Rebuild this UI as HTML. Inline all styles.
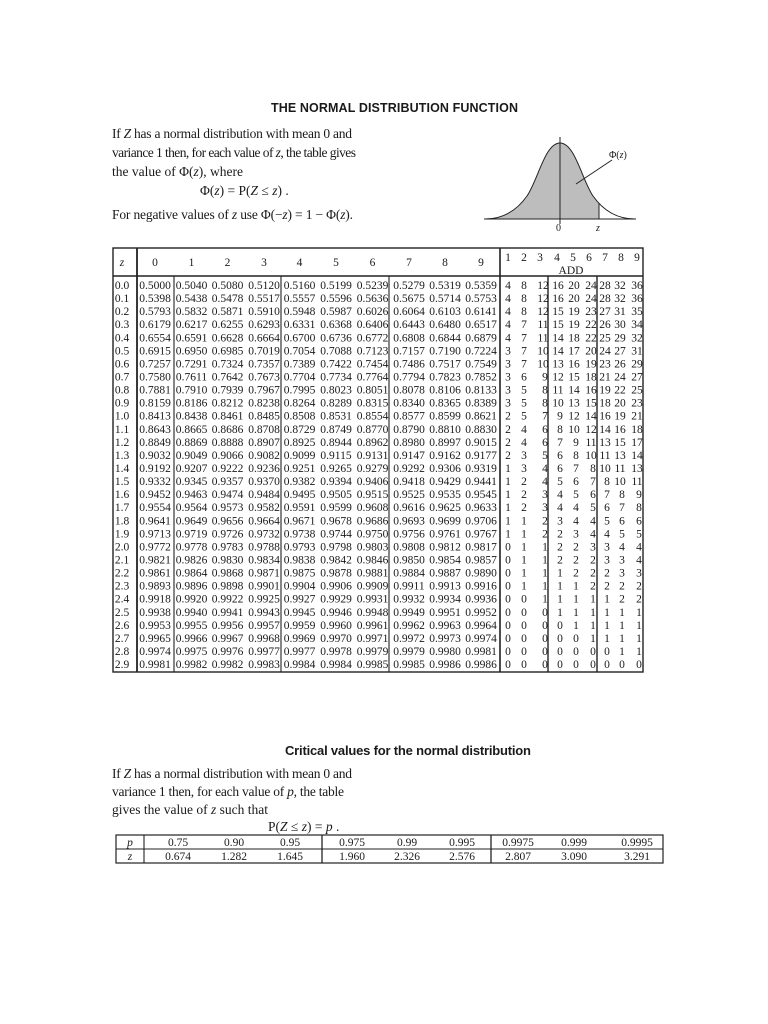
<!DOCTYPE html>
<html><head><meta charset="utf-8"><style>
html,body{margin:0;padding:0;background:#fff;}
svg{display:block;}
.s{font-family:"Liberation Serif",serif;fill:#1a1a1a;}
.b{font-family:"Liberation Sans",sans-serif;font-weight:bold;fill:#1a1a1a;}
.t{font-family:"Liberation Serif",serif;font-size:11.5px;fill:#1a1a1a;text-anchor:middle;}
</style></head><body>
<svg width="768" height="1024" viewBox="0 0 768 1024" xmlns="http://www.w3.org/2000/svg">
<text class="b" x="271" y="112" font-size="12.5" textLength="247">THE NORMAL DISTRIBUTION FUNCTION</text>
<text class="s" x="112" y="138" font-size="13.5" textLength="240">If <tspan font-style="italic">Z</tspan> has a normal distribution with mean 0 and</text>
<text class="s" x="112" y="157" font-size="13.5" textLength="244">variance 1 then, for each value of <tspan font-style="italic">z</tspan>, the table gives</text>
<text class="s" x="112" y="176" font-size="13.5">the value of Φ(<tspan font-style="italic">z</tspan>), where</text>
<text class="s" x="200" y="195" font-size="13.5">Φ(<tspan font-style="italic">z</tspan>) = P(<tspan font-style="italic">Z</tspan> ≤ <tspan font-style="italic">z</tspan>) .</text>
<text class="s" x="112" y="219" font-size="13.5" textLength="241">For negative values of <tspan font-style="italic">z</tspan> use  Φ(−<tspan font-style="italic">z</tspan>) = 1 − Φ(<tspan font-style="italic">z</tspan>).</text>

<path d="M485,219 C500,219 515,213 527,196 C538,180 545,143 560,143 C575,143 582,180 593,196 L599,204 L599,219 Z" fill="#bdbdbd"/>
<path d="M485,219 C500,219 515,213 527,196 C538,180 545,143 560,143 C575,143 582,180 593,196 C605,213 620,219 635,219" fill="none" stroke="#222" stroke-width="1"/>
<line x1="484" y1="219" x2="636" y2="219" stroke="#222" stroke-width="1"/>
<line x1="560" y1="137" x2="560" y2="224" stroke="#222" stroke-width="1"/>
<line x1="599" y1="203" x2="599" y2="219" stroke="#222" stroke-width="1"/>
<line x1="612" y1="160" x2="576" y2="184" stroke="#222" stroke-width="1"/>
<text class="s" x="609" y="158" font-size="10">Φ(<tspan font-style="italic">z</tspan>)</text>
<text class="s" x="556" y="231" font-size="10">0</text>
<text class="s" x="596" y="231" font-size="10" font-style="italic">z</text>

<g stroke="#222" fill="none">
<rect x="113" y="248" width="530" height="424" stroke-width="1.4"/>
<line x1="113" y1="276" x2="643" y2="276" stroke-width="1.6"/>
<line x1="137" y1="248" x2="137" y2="672" stroke-width="1.8"/>
<line x1="174" y1="276" x2="174" y2="672" stroke-width="1.1"/>
<line x1="281" y1="276" x2="281" y2="672" stroke-width="1.1"/>
<line x1="389" y1="276" x2="389" y2="672" stroke-width="1.1"/>
<line x1="500" y1="248" x2="500" y2="672" stroke-width="1.6"/>
<line x1="548" y1="276" x2="548" y2="672" stroke-width="1.4"/>
<line x1="597" y1="276" x2="597" y2="672" stroke-width="1.4"/>
</g>
<text class="t" y="266"><tspan x="122" font-style="italic">z</tspan><tspan x="155">0</tspan><tspan x="191.5">1</tspan><tspan x="227.5">2</tspan><tspan x="264">3</tspan><tspan x="299.5">4</tspan><tspan x="336">5</tspan><tspan x="372.5">6</tspan><tspan x="409">7</tspan><tspan x="445">8</tspan><tspan x="481">9</tspan></text>
<text class="t" y="261"><tspan x="508">1</tspan><tspan x="524">2</tspan><tspan x="540">3</tspan><tspan x="557">4</tspan><tspan x="573">5</tspan><tspan x="589">6</tspan><tspan x="605">7</tspan><tspan x="621">8</tspan><tspan x="637">9</tspan></text>
<text class="t" x="571" y="274">ADD</text>

<text class="t" y="289"><tspan x="122">0.0</tspan><tspan x="155">0.5000</tspan><tspan x="191.5">0.5040</tspan><tspan x="227.5">0.5080</tspan><tspan x="264">0.5120</tspan><tspan x="299.5">0.5160</tspan><tspan x="336">0.5199</tspan><tspan x="372.5">0.5239</tspan><tspan x="409">0.5279</tspan><tspan x="445">0.5319</tspan><tspan x="481">0.5359</tspan><tspan x="508">4</tspan><tspan x="524">8</tspan><tspan x="543">12</tspan><tspan x="558">16</tspan><tspan x="574">20</tspan><tspan x="591">24</tspan><tspan x="605">28</tspan><tspan x="620">32</tspan><tspan x="637">36</tspan></text>
<text class="t" y="302.1"><tspan x="122">0.1</tspan><tspan x="155">0.5398</tspan><tspan x="191.5">0.5438</tspan><tspan x="227.5">0.5478</tspan><tspan x="264">0.5517</tspan><tspan x="299.5">0.5557</tspan><tspan x="336">0.5596</tspan><tspan x="372.5">0.5636</tspan><tspan x="409">0.5675</tspan><tspan x="445">0.5714</tspan><tspan x="481">0.5753</tspan><tspan x="508">4</tspan><tspan x="524">8</tspan><tspan x="543">12</tspan><tspan x="558">16</tspan><tspan x="574">20</tspan><tspan x="591">24</tspan><tspan x="605">28</tspan><tspan x="620">32</tspan><tspan x="637">36</tspan></text>
<text class="t" y="315.1"><tspan x="122">0.2</tspan><tspan x="155">0.5793</tspan><tspan x="191.5">0.5832</tspan><tspan x="227.5">0.5871</tspan><tspan x="264">0.5910</tspan><tspan x="299.5">0.5948</tspan><tspan x="336">0.5987</tspan><tspan x="372.5">0.6026</tspan><tspan x="409">0.6064</tspan><tspan x="445">0.6103</tspan><tspan x="481">0.6141</tspan><tspan x="508">4</tspan><tspan x="524">8</tspan><tspan x="543">12</tspan><tspan x="558">15</tspan><tspan x="574">19</tspan><tspan x="591">23</tspan><tspan x="605">27</tspan><tspan x="620">31</tspan><tspan x="637">35</tspan></text>
<text class="t" y="328.2"><tspan x="122">0.3</tspan><tspan x="155">0.6179</tspan><tspan x="191.5">0.6217</tspan><tspan x="227.5">0.6255</tspan><tspan x="264">0.6293</tspan><tspan x="299.5">0.6331</tspan><tspan x="336">0.6368</tspan><tspan x="372.5">0.6406</tspan><tspan x="409">0.6443</tspan><tspan x="445">0.6480</tspan><tspan x="481">0.6517</tspan><tspan x="508">4</tspan><tspan x="524">7</tspan><tspan x="543">11</tspan><tspan x="558">15</tspan><tspan x="574">19</tspan><tspan x="591">22</tspan><tspan x="605">26</tspan><tspan x="620">30</tspan><tspan x="637">34</tspan></text>
<text class="t" y="341.3"><tspan x="122">0.4</tspan><tspan x="155">0.6554</tspan><tspan x="191.5">0.6591</tspan><tspan x="227.5">0.6628</tspan><tspan x="264">0.6664</tspan><tspan x="299.5">0.6700</tspan><tspan x="336">0.6736</tspan><tspan x="372.5">0.6772</tspan><tspan x="409">0.6808</tspan><tspan x="445">0.6844</tspan><tspan x="481">0.6879</tspan><tspan x="508">4</tspan><tspan x="524">7</tspan><tspan x="543">11</tspan><tspan x="558">14</tspan><tspan x="574">18</tspan><tspan x="591">22</tspan><tspan x="605">25</tspan><tspan x="620">29</tspan><tspan x="637">32</tspan></text>
<text class="t" y="354.4"><tspan x="122">0.5</tspan><tspan x="155">0.6915</tspan><tspan x="191.5">0.6950</tspan><tspan x="227.5">0.6985</tspan><tspan x="264">0.7019</tspan><tspan x="299.5">0.7054</tspan><tspan x="336">0.7088</tspan><tspan x="372.5">0.7123</tspan><tspan x="409">0.7157</tspan><tspan x="445">0.7190</tspan><tspan x="481">0.7224</tspan><tspan x="508">3</tspan><tspan x="524">7</tspan><tspan x="543">10</tspan><tspan x="558">14</tspan><tspan x="574">17</tspan><tspan x="591">20</tspan><tspan x="605">24</tspan><tspan x="620">27</tspan><tspan x="637">31</tspan></text>
<text class="t" y="367.4"><tspan x="122">0.6</tspan><tspan x="155">0.7257</tspan><tspan x="191.5">0.7291</tspan><tspan x="227.5">0.7324</tspan><tspan x="264">0.7357</tspan><tspan x="299.5">0.7389</tspan><tspan x="336">0.7422</tspan><tspan x="372.5">0.7454</tspan><tspan x="409">0.7486</tspan><tspan x="445">0.7517</tspan><tspan x="481">0.7549</tspan><tspan x="508">3</tspan><tspan x="524">7</tspan><tspan x="543">10</tspan><tspan x="558">13</tspan><tspan x="574">16</tspan><tspan x="591">19</tspan><tspan x="605">23</tspan><tspan x="620">26</tspan><tspan x="637">29</tspan></text>
<text class="t" y="380.5"><tspan x="122">0.7</tspan><tspan x="155">0.7580</tspan><tspan x="191.5">0.7611</tspan><tspan x="227.5">0.7642</tspan><tspan x="264">0.7673</tspan><tspan x="299.5">0.7704</tspan><tspan x="336">0.7734</tspan><tspan x="372.5">0.7764</tspan><tspan x="409">0.7794</tspan><tspan x="445">0.7823</tspan><tspan x="481">0.7852</tspan><tspan x="508">3</tspan><tspan x="524">6</tspan><tspan x="545">9</tspan><tspan x="558">12</tspan><tspan x="574">15</tspan><tspan x="591">18</tspan><tspan x="605">21</tspan><tspan x="620">24</tspan><tspan x="637">27</tspan></text>
<text class="t" y="393.6"><tspan x="122">0.8</tspan><tspan x="155">0.7881</tspan><tspan x="191.5">0.7910</tspan><tspan x="227.5">0.7939</tspan><tspan x="264">0.7967</tspan><tspan x="299.5">0.7995</tspan><tspan x="336">0.8023</tspan><tspan x="372.5">0.8051</tspan><tspan x="409">0.8078</tspan><tspan x="445">0.8106</tspan><tspan x="481">0.8133</tspan><tspan x="508">3</tspan><tspan x="524">5</tspan><tspan x="545">8</tspan><tspan x="558">11</tspan><tspan x="574">14</tspan><tspan x="591">16</tspan><tspan x="605">19</tspan><tspan x="620">22</tspan><tspan x="637">25</tspan></text>
<text class="t" y="406.6"><tspan x="122">0.9</tspan><tspan x="155">0.8159</tspan><tspan x="191.5">0.8186</tspan><tspan x="227.5">0.8212</tspan><tspan x="264">0.8238</tspan><tspan x="299.5">0.8264</tspan><tspan x="336">0.8289</tspan><tspan x="372.5">0.8315</tspan><tspan x="409">0.8340</tspan><tspan x="445">0.8365</tspan><tspan x="481">0.8389</tspan><tspan x="508">3</tspan><tspan x="524">5</tspan><tspan x="545">8</tspan><tspan x="558">10</tspan><tspan x="574">13</tspan><tspan x="591">15</tspan><tspan x="605">18</tspan><tspan x="620">20</tspan><tspan x="637">23</tspan></text>
<text class="t" y="419.7"><tspan x="122">1.0</tspan><tspan x="155">0.8413</tspan><tspan x="191.5">0.8438</tspan><tspan x="227.5">0.8461</tspan><tspan x="264">0.8485</tspan><tspan x="299.5">0.8508</tspan><tspan x="336">0.8531</tspan><tspan x="372.5">0.8554</tspan><tspan x="409">0.8577</tspan><tspan x="445">0.8599</tspan><tspan x="481">0.8621</tspan><tspan x="508">2</tspan><tspan x="524">5</tspan><tspan x="545">7</tspan><tspan x="560">9</tspan><tspan x="574">12</tspan><tspan x="591">14</tspan><tspan x="605">16</tspan><tspan x="620">19</tspan><tspan x="637">21</tspan></text>
<text class="t" y="432.8"><tspan x="122">1.1</tspan><tspan x="155">0.8643</tspan><tspan x="191.5">0.8665</tspan><tspan x="227.5">0.8686</tspan><tspan x="264">0.8708</tspan><tspan x="299.5">0.8729</tspan><tspan x="336">0.8749</tspan><tspan x="372.5">0.8770</tspan><tspan x="409">0.8790</tspan><tspan x="445">0.8810</tspan><tspan x="481">0.8830</tspan><tspan x="508">2</tspan><tspan x="524">4</tspan><tspan x="545">6</tspan><tspan x="560">8</tspan><tspan x="574">10</tspan><tspan x="591">12</tspan><tspan x="605">14</tspan><tspan x="620">16</tspan><tspan x="637">18</tspan></text>
<text class="t" y="445.8"><tspan x="122">1.2</tspan><tspan x="155">0.8849</tspan><tspan x="191.5">0.8869</tspan><tspan x="227.5">0.8888</tspan><tspan x="264">0.8907</tspan><tspan x="299.5">0.8925</tspan><tspan x="336">0.8944</tspan><tspan x="372.5">0.8962</tspan><tspan x="409">0.8980</tspan><tspan x="445">0.8997</tspan><tspan x="481">0.9015</tspan><tspan x="508">2</tspan><tspan x="524">4</tspan><tspan x="545">6</tspan><tspan x="560">7</tspan><tspan x="576">9</tspan><tspan x="591">11</tspan><tspan x="605">13</tspan><tspan x="620">15</tspan><tspan x="637">17</tspan></text>
<text class="t" y="458.9"><tspan x="122">1.3</tspan><tspan x="155">0.9032</tspan><tspan x="191.5">0.9049</tspan><tspan x="227.5">0.9066</tspan><tspan x="264">0.9082</tspan><tspan x="299.5">0.9099</tspan><tspan x="336">0.9115</tspan><tspan x="372.5">0.9131</tspan><tspan x="409">0.9147</tspan><tspan x="445">0.9162</tspan><tspan x="481">0.9177</tspan><tspan x="508">2</tspan><tspan x="524">3</tspan><tspan x="545">5</tspan><tspan x="560">6</tspan><tspan x="576">8</tspan><tspan x="591">10</tspan><tspan x="605">11</tspan><tspan x="620">13</tspan><tspan x="637">14</tspan></text>
<text class="t" y="472"><tspan x="122">1.4</tspan><tspan x="155">0.9192</tspan><tspan x="191.5">0.9207</tspan><tspan x="227.5">0.9222</tspan><tspan x="264">0.9236</tspan><tspan x="299.5">0.9251</tspan><tspan x="336">0.9265</tspan><tspan x="372.5">0.9279</tspan><tspan x="409">0.9292</tspan><tspan x="445">0.9306</tspan><tspan x="481">0.9319</tspan><tspan x="508">1</tspan><tspan x="524">3</tspan><tspan x="545">4</tspan><tspan x="560">6</tspan><tspan x="576">7</tspan><tspan x="593">8</tspan><tspan x="605">10</tspan><tspan x="620">11</tspan><tspan x="637">13</tspan></text>
<text class="t" y="485.1"><tspan x="122">1.5</tspan><tspan x="155">0.9332</tspan><tspan x="191.5">0.9345</tspan><tspan x="227.5">0.9357</tspan><tspan x="264">0.9370</tspan><tspan x="299.5">0.9382</tspan><tspan x="336">0.9394</tspan><tspan x="372.5">0.9406</tspan><tspan x="409">0.9418</tspan><tspan x="445">0.9429</tspan><tspan x="481">0.9441</tspan><tspan x="508">1</tspan><tspan x="524">2</tspan><tspan x="545">4</tspan><tspan x="560">5</tspan><tspan x="576">6</tspan><tspan x="593">7</tspan><tspan x="607">8</tspan><tspan x="620">10</tspan><tspan x="637">11</tspan></text>
<text class="t" y="498.1"><tspan x="122">1.6</tspan><tspan x="155">0.9452</tspan><tspan x="191.5">0.9463</tspan><tspan x="227.5">0.9474</tspan><tspan x="264">0.9484</tspan><tspan x="299.5">0.9495</tspan><tspan x="336">0.9505</tspan><tspan x="372.5">0.9515</tspan><tspan x="409">0.9525</tspan><tspan x="445">0.9535</tspan><tspan x="481">0.9545</tspan><tspan x="508">1</tspan><tspan x="524">2</tspan><tspan x="545">3</tspan><tspan x="560">4</tspan><tspan x="576">5</tspan><tspan x="593">6</tspan><tspan x="607">7</tspan><tspan x="622">8</tspan><tspan x="639">9</tspan></text>
<text class="t" y="511.2"><tspan x="122">1.7</tspan><tspan x="155">0.9554</tspan><tspan x="191.5">0.9564</tspan><tspan x="227.5">0.9573</tspan><tspan x="264">0.9582</tspan><tspan x="299.5">0.9591</tspan><tspan x="336">0.9599</tspan><tspan x="372.5">0.9608</tspan><tspan x="409">0.9616</tspan><tspan x="445">0.9625</tspan><tspan x="481">0.9633</tspan><tspan x="508">1</tspan><tspan x="524">2</tspan><tspan x="545">3</tspan><tspan x="560">4</tspan><tspan x="576">4</tspan><tspan x="593">5</tspan><tspan x="607">6</tspan><tspan x="622">7</tspan><tspan x="639">8</tspan></text>
<text class="t" y="524.3"><tspan x="122">1.8</tspan><tspan x="155">0.9641</tspan><tspan x="191.5">0.9649</tspan><tspan x="227.5">0.9656</tspan><tspan x="264">0.9664</tspan><tspan x="299.5">0.9671</tspan><tspan x="336">0.9678</tspan><tspan x="372.5">0.9686</tspan><tspan x="409">0.9693</tspan><tspan x="445">0.9699</tspan><tspan x="481">0.9706</tspan><tspan x="508">1</tspan><tspan x="524">1</tspan><tspan x="545">2</tspan><tspan x="560">3</tspan><tspan x="576">4</tspan><tspan x="593">4</tspan><tspan x="607">5</tspan><tspan x="622">6</tspan><tspan x="639">6</tspan></text>
<text class="t" y="537.3"><tspan x="122">1.9</tspan><tspan x="155">0.9713</tspan><tspan x="191.5">0.9719</tspan><tspan x="227.5">0.9726</tspan><tspan x="264">0.9732</tspan><tspan x="299.5">0.9738</tspan><tspan x="336">0.9744</tspan><tspan x="372.5">0.9750</tspan><tspan x="409">0.9756</tspan><tspan x="445">0.9761</tspan><tspan x="481">0.9767</tspan><tspan x="508">1</tspan><tspan x="524">1</tspan><tspan x="545">2</tspan><tspan x="560">2</tspan><tspan x="576">3</tspan><tspan x="593">4</tspan><tspan x="607">4</tspan><tspan x="622">5</tspan><tspan x="639">5</tspan></text>
<text class="t" y="550.4"><tspan x="122">2.0</tspan><tspan x="155">0.9772</tspan><tspan x="191.5">0.9778</tspan><tspan x="227.5">0.9783</tspan><tspan x="264">0.9788</tspan><tspan x="299.5">0.9793</tspan><tspan x="336">0.9798</tspan><tspan x="372.5">0.9803</tspan><tspan x="409">0.9808</tspan><tspan x="445">0.9812</tspan><tspan x="481">0.9817</tspan><tspan x="508">0</tspan><tspan x="524">1</tspan><tspan x="545">1</tspan><tspan x="560">2</tspan><tspan x="576">2</tspan><tspan x="593">3</tspan><tspan x="607">3</tspan><tspan x="622">4</tspan><tspan x="639">4</tspan></text>
<text class="t" y="563.5"><tspan x="122">2.1</tspan><tspan x="155">0.9821</tspan><tspan x="191.5">0.9826</tspan><tspan x="227.5">0.9830</tspan><tspan x="264">0.9834</tspan><tspan x="299.5">0.9838</tspan><tspan x="336">0.9842</tspan><tspan x="372.5">0.9846</tspan><tspan x="409">0.9850</tspan><tspan x="445">0.9854</tspan><tspan x="481">0.9857</tspan><tspan x="508">0</tspan><tspan x="524">1</tspan><tspan x="545">1</tspan><tspan x="560">2</tspan><tspan x="576">2</tspan><tspan x="593">2</tspan><tspan x="607">3</tspan><tspan x="622">3</tspan><tspan x="639">4</tspan></text>
<text class="t" y="576.5"><tspan x="122">2.2</tspan><tspan x="155">0.9861</tspan><tspan x="191.5">0.9864</tspan><tspan x="227.5">0.9868</tspan><tspan x="264">0.9871</tspan><tspan x="299.5">0.9875</tspan><tspan x="336">0.9878</tspan><tspan x="372.5">0.9881</tspan><tspan x="409">0.9884</tspan><tspan x="445">0.9887</tspan><tspan x="481">0.9890</tspan><tspan x="508">0</tspan><tspan x="524">1</tspan><tspan x="545">1</tspan><tspan x="560">1</tspan><tspan x="576">2</tspan><tspan x="593">2</tspan><tspan x="607">2</tspan><tspan x="622">3</tspan><tspan x="639">3</tspan></text>
<text class="t" y="589.6"><tspan x="122">2.3</tspan><tspan x="155">0.9893</tspan><tspan x="191.5">0.9896</tspan><tspan x="227.5">0.9898</tspan><tspan x="264">0.9901</tspan><tspan x="299.5">0.9904</tspan><tspan x="336">0.9906</tspan><tspan x="372.5">0.9909</tspan><tspan x="409">0.9911</tspan><tspan x="445">0.9913</tspan><tspan x="481">0.9916</tspan><tspan x="508">0</tspan><tspan x="524">1</tspan><tspan x="545">1</tspan><tspan x="560">1</tspan><tspan x="576">1</tspan><tspan x="593">2</tspan><tspan x="607">2</tspan><tspan x="622">2</tspan><tspan x="639">2</tspan></text>
<text class="t" y="602.7"><tspan x="122">2.4</tspan><tspan x="155">0.9918</tspan><tspan x="191.5">0.9920</tspan><tspan x="227.5">0.9922</tspan><tspan x="264">0.9925</tspan><tspan x="299.5">0.9927</tspan><tspan x="336">0.9929</tspan><tspan x="372.5">0.9931</tspan><tspan x="409">0.9932</tspan><tspan x="445">0.9934</tspan><tspan x="481">0.9936</tspan><tspan x="508">0</tspan><tspan x="524">0</tspan><tspan x="545">1</tspan><tspan x="560">1</tspan><tspan x="576">1</tspan><tspan x="593">1</tspan><tspan x="607">1</tspan><tspan x="622">2</tspan><tspan x="639">2</tspan></text>
<text class="t" y="615.8"><tspan x="122">2.5</tspan><tspan x="155">0.9938</tspan><tspan x="191.5">0.9940</tspan><tspan x="227.5">0.9941</tspan><tspan x="264">0.9943</tspan><tspan x="299.5">0.9945</tspan><tspan x="336">0.9946</tspan><tspan x="372.5">0.9948</tspan><tspan x="409">0.9949</tspan><tspan x="445">0.9951</tspan><tspan x="481">0.9952</tspan><tspan x="508">0</tspan><tspan x="524">0</tspan><tspan x="545">0</tspan><tspan x="560">1</tspan><tspan x="576">1</tspan><tspan x="593">1</tspan><tspan x="607">1</tspan><tspan x="622">1</tspan><tspan x="639">1</tspan></text>
<text class="t" y="628.8"><tspan x="122">2.6</tspan><tspan x="155">0.9953</tspan><tspan x="191.5">0.9955</tspan><tspan x="227.5">0.9956</tspan><tspan x="264">0.9957</tspan><tspan x="299.5">0.9959</tspan><tspan x="336">0.9960</tspan><tspan x="372.5">0.9961</tspan><tspan x="409">0.9962</tspan><tspan x="445">0.9963</tspan><tspan x="481">0.9964</tspan><tspan x="508">0</tspan><tspan x="524">0</tspan><tspan x="545">0</tspan><tspan x="560">0</tspan><tspan x="576">1</tspan><tspan x="593">1</tspan><tspan x="607">1</tspan><tspan x="622">1</tspan><tspan x="639">1</tspan></text>
<text class="t" y="641.9"><tspan x="122">2.7</tspan><tspan x="155">0.9965</tspan><tspan x="191.5">0.9966</tspan><tspan x="227.5">0.9967</tspan><tspan x="264">0.9968</tspan><tspan x="299.5">0.9969</tspan><tspan x="336">0.9970</tspan><tspan x="372.5">0.9971</tspan><tspan x="409">0.9972</tspan><tspan x="445">0.9973</tspan><tspan x="481">0.9974</tspan><tspan x="508">0</tspan><tspan x="524">0</tspan><tspan x="545">0</tspan><tspan x="560">0</tspan><tspan x="576">0</tspan><tspan x="593">1</tspan><tspan x="607">1</tspan><tspan x="622">1</tspan><tspan x="639">1</tspan></text>
<text class="t" y="655"><tspan x="122">2.8</tspan><tspan x="155">0.9974</tspan><tspan x="191.5">0.9975</tspan><tspan x="227.5">0.9976</tspan><tspan x="264">0.9977</tspan><tspan x="299.5">0.9977</tspan><tspan x="336">0.9978</tspan><tspan x="372.5">0.9979</tspan><tspan x="409">0.9979</tspan><tspan x="445">0.9980</tspan><tspan x="481">0.9981</tspan><tspan x="508">0</tspan><tspan x="524">0</tspan><tspan x="545">0</tspan><tspan x="560">0</tspan><tspan x="576">0</tspan><tspan x="593">0</tspan><tspan x="607">0</tspan><tspan x="622">1</tspan><tspan x="639">1</tspan></text>
<text class="t" y="668"><tspan x="122">2.9</tspan><tspan x="155">0.9981</tspan><tspan x="191.5">0.9982</tspan><tspan x="227.5">0.9982</tspan><tspan x="264">0.9983</tspan><tspan x="299.5">0.9984</tspan><tspan x="336">0.9984</tspan><tspan x="372.5">0.9985</tspan><tspan x="409">0.9985</tspan><tspan x="445">0.9986</tspan><tspan x="481">0.9986</tspan><tspan x="508">0</tspan><tspan x="524">0</tspan><tspan x="545">0</tspan><tspan x="560">0</tspan><tspan x="576">0</tspan><tspan x="593">0</tspan><tspan x="607">0</tspan><tspan x="622">0</tspan><tspan x="639">0</tspan></text>

<text class="b" x="285" y="755" font-size="13" textLength="246">Critical values for the normal distribution</text>
<text class="s" x="112" y="778" font-size="13.5" textLength="240">If <tspan font-style="italic">Z</tspan> has a normal distribution with mean 0 and</text>
<text class="s" x="112" y="796" font-size="13.5" textLength="232">variance 1 then, for each value of <tspan font-style="italic">p</tspan>, the table</text>
<text class="s" x="112" y="814" font-size="13.5">gives the value of <tspan font-style="italic">z</tspan> such that</text>
<text class="s" x="268" y="831" font-size="13.5">P(<tspan font-style="italic">Z</tspan> ≤ <tspan font-style="italic">z</tspan>) = <tspan font-style="italic">p</tspan> .</text>

<g stroke="#222" fill="none">
<rect x="116" y="835" width="547" height="28" stroke-width="1.2"/>
<line x1="116" y1="849" x2="663" y2="849" stroke-width="0.9"/>
<line x1="144" y1="835" x2="144" y2="863" stroke-width="1.1"/>
<line x1="322" y1="835" x2="322" y2="863" stroke-width="1.3"/>
<line x1="491" y1="835" x2="491" y2="863" stroke-width="1.3"/>
</g>
<text class="t" y="846" font-size="11"><tspan x="130" font-style="italic">p</tspan><tspan x="178">0.75</tspan><tspan x="234">0.90</tspan><tspan x="290">0.95</tspan><tspan x="352">0.975</tspan><tspan x="407">0.99</tspan><tspan x="462">0.995</tspan><tspan x="518">0.9975</tspan><tspan x="574">0.999</tspan><tspan x="637">0.9995</tspan></text>
<text class="t" y="860" font-size="11"><tspan x="130" font-style="italic">z</tspan><tspan x="178">0.674</tspan><tspan x="234">1.282</tspan><tspan x="290">1.645</tspan><tspan x="352">1.960</tspan><tspan x="407">2.326</tspan><tspan x="462">2.576</tspan><tspan x="518">2.807</tspan><tspan x="574">3.090</tspan><tspan x="637">3.291</tspan></text>
</svg>
</body></html>
